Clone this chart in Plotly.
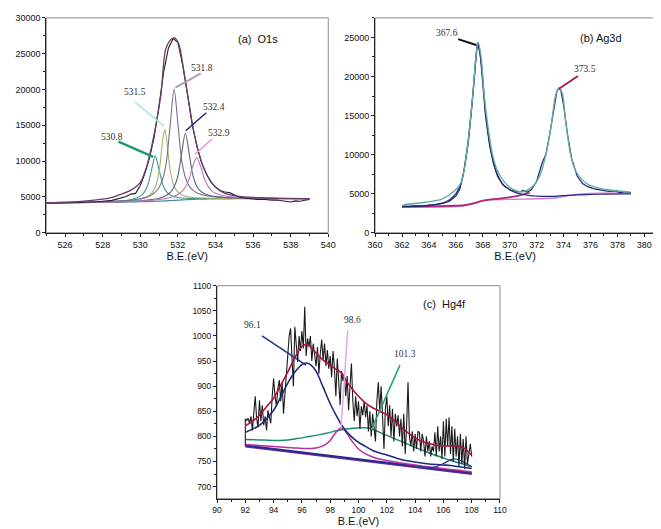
import plotly.graph_objects as go

# ---------------- Panel (a) O1s ----------------
a_x = [525, 526, 527, 528, 529, 529.5, 530, 530.2, 530.4, 530.6, 530.8, 531, 531.2, 531.3, 531.4,
       531.6, 531.8, 532, 532.2, 532.4, 532.6, 532.8, 533, 533.2, 533.4, 533.6, 533.8, 534, 534.5,
       535, 536, 537, 538, 539]
a_bg = [4150, 4180, 4210, 4240, 4280, 4300, 4330, 4345, 4360, 4375, 4390, 4410, 4435, 4448, 4460,
        4490, 4520, 4550, 4580, 4610, 4635, 4660, 4680, 4695, 4705, 4715, 4722, 4728, 4740, 4748,
        4750, 4750, 4750, 4750]
a_p1 = [4167, 4205, 4249, 4312, 4452, 4621, 5113, 5615, 6646, 8772, 10740, 8807, 6721, 6128, 5730,
        5273, 5044, 4924, 4859, 4826, 4807, 4800, 4796, 4793, 4788, 4787, 4785, 4783, 4781, 4780,
        4771, 4765, 4761, 4758]
a_p2 = [4166, 4202, 4244, 4297, 4397, 4489, 4687, 4836, 5076, 5506, 6390, 8508, 13056, 14448, 13081,
        8588, 6520, 5681, 5296, 5101, 4992, 4930, 4892, 4865, 4845, 4832, 4821, 4813, 4801, 4793,
        4778, 4769, 4764, 4761]
a_p3 = [4180, 4221, 4270, 4336, 4456, 4560, 4750, 4872, 5042, 5289, 5672, 6325, 7541, 8556, 10046,
        15244, 20050, 15304, 10166, 7716, 6550, 5942, 5594, 5377, 5232, 5135, 5064, 5011, 4929, 4883,
        4829, 4802, 4786, 4777]
a_p4 = [4165, 4200, 4239, 4283, 4352, 4399, 4473, 4515, 4561, 4627, 4707, 4819, 4983, 5093, 5230,
        5639, 6384, 7903, 11034, 13930, 11089, 8013, 6544, 5844, 5475, 5263, 5131, 5045, 4926, 4870,
        4814, 4789, 4777, 4769]
a_p5 = [4165, 4199, 4236, 4277, 4338, 4375, 4432, 4461, 4495, 4532, 4576, 4634, 4709, 4753, 4802,
        4929, 5102, 5353, 5744, 6401, 7545, 9316, 10500, 9351, 7615, 6506, 5886, 5531, 5126, 4972,
        4852, 4808, 4787, 4776]

a_env_x = [525, 526, 527, 528, 528.5, 529, 529.5, 530, 530.3, 530.6, 530.9, 531.1, 531.35, 531.6,
           531.8, 532.05, 532.3, 532.55, 532.8, 533.1, 533.35, 533.6, 533.95, 534.45, 535.15, 536.4,
           537.5, 539]
a_env_y = [4180, 4280, 4420, 4700, 4950, 5400, 5950, 7000, 8900, 12000, 16000, 19300, 25600, 26900,
           27250, 26350, 22900, 18800, 14800, 11300, 9200, 7850, 6480, 5570, 5110, 4890, 4800, 4750]

a_raw_x = [525, 525.25, 525.5, 525.75, 526, 526.25, 526.5, 526.75, 527, 527.25, 527.5, 527.75, 528,
           528.25, 528.5, 528.75, 529, 529.25, 529.5, 529.75, 530, 530.25, 530.5, 530.75, 531,
           531.25, 531.5, 531.75, 532, 532.25, 532.5, 532.75, 533, 533.25, 533.5, 533.75, 534,
           534.25, 534.5, 534.75, 535, 535.25, 535.5, 535.75, 536, 536.25, 536.5, 536.75, 537,
           537.25, 537.5, 537.75, 538, 538.25, 538.5, 538.75, 539]
a_raw_y = [4150, 4130, 4160, 4170, 4190, 4180, 4220, 4200, 4260, 4240, 4300, 4330, 4400, 4420, 4520,
           4700, 4850, 5050, 5400, 5500, 6600, 8300, 10500, 13500, 17800, 22500, 25800, 27100, 26600,
           23500, 19500, 15300, 12200, 9900, 8300, 7100, 6400, 5900, 5700, 5600, 5300, 5000, 4850,
           4780, 4700, 4650, 4680, 4600, 4560, 4580, 4500, 4350, 4300, 4450, 4400, 4550, 4650]

a_labels = ["530.8", "531.5", "531.8", "532.4", "532.9"]
a_label_x = [528.5, 529.7, 533.3, 533.9, 534.2]
a_label_y = [13400, 19700, 23000, 17500, 13900]
a_ptr_x0 = [528.84, 529.71, 533.22, 533.51, 533.82]
a_ptr_y0 = [12740, 18260, 22240, 16760, 13100]
a_ptr_x1 = [530.69, 531.26, 531.87, 532.42, 532.91]
a_ptr_y1 = [10600, 14930, 20270, 14250, 10960]
a_ptr_col = ["#1f9a63", "#9fe6dc", "#b09ab8", "#1c2a80", "#e58ee0"]
a_ptr_w = [2.5, 1.5, 2, 1.5, 1.5]

# ---------------- Panel (b) Ag3d ----------------
b_env_x = [362.1, 363.75, 364.96, 365.93, 366.41, 366.89, 367.26, 367.5, 367.65, 367.86, 368.1,
           368.39, 368.71, 369.07, 369.55, 370.04, 370.52, 371.0, 371.73, 372.21, 372.7, 373.06,
           373.42, 373.66, 373.9, 374.15, 374.51, 374.87, 375.36, 375.84, 376.57, 377.53, 378.98]
b_env_y = [3600, 3900, 4300, 5400, 6500, 11400, 17700, 22700, 24400, 22700, 17700, 13500, 10100,
           8000, 6600, 5750, 5350, 5250, 5950, 7200, 10100, 13500, 17700, 18500, 17900, 14300, 10100,
           8000, 6800, 6150, 5750, 5450, 5200]

b_raw_x = [362.0, 362.5, 363, 363.5, 364, 364.5, 365, 365.5, 366, 366.3, 366.6, 366.9, 367.2, 367.4,
           367.6, 367.8, 368.0, 368.2, 368.5, 368.8, 369.1, 369.5, 370, 370.5, 370.8, 371.0, 371.1,
           371.3, 371.6, 372, 372.4, 372.7, 373.0, 373.3, 373.5, 373.65, 373.8, 374.0, 374.3, 374.6,
           375, 375.4, 375.8, 376.2, 376.6, 377, 377.4, 377.8, 378.2, 378.6, 379]
b_raw_y = [3400, 3350, 3450, 3420, 3550, 3600, 3750, 4000, 4700, 5600, 8000, 11500, 16500, 21000,
           24300, 23000, 19000, 15000, 11200, 8800, 7200, 6100, 5500, 5250, 5250, 5450, 5300, 5200,
           5500, 6600, 8900, 10100, 12900, 16200, 18100, 18500, 18200, 16300, 12500, 9500, 7300, 6300,
           5900, 5650, 5500, 5400, 5300, 5350, 5150, 5250, 5100]

b_p1_x = [362.0, 363, 364, 365, 365.5, 366, 366.4, 366.9, 367.3, 367.62, 367.9, 368.2, 368.6, 369.0,
          369.5, 370, 370.5, 371, 371.5, 372, 373, 374, 375, 376, 377, 379]
b_p1_y = [3350, 3400, 3500, 3800, 4200, 5000, 6400, 11300, 18500, 24300, 21500, 15500, 10500, 7800,
          6200, 5500, 5100, 4900, 4750, 4700, 4650, 4750, 4850, 4900, 4950, 4980]

b_bg1_x = [362.0, 364, 366, 366.65, 367.3, 367.86, 368.5, 369.07, 369.8, 370.52, 371.0, 371.49]
b_bg1_y = [3350, 3380, 3460, 3520, 3750, 4060, 4250, 4350, 4500, 4690, 4900, 5110]
b_bg2_x = [362.0, 364, 366, 367, 368.1, 370.04, 371.97, 373.42, 374.39, 375.84, 377, 378.98]
b_bg2_y = [3250, 3280, 3350, 3600, 4150, 4270, 4350, 4480, 4770, 5030, 5080, 5110]

b_labels = ["367.6", "373.5"]
b_label_x = [365.32, 375.6]
b_label_y = [25540, 21020]
b_ptr_x0 = [366.17, 375.07]
b_ptr_y0 = [24790, 20060]
b_ptr_x1 = [367.5, 373.66]
b_ptr_y1 = [24040, 18430]
b_ptr_col = ["#111111", "#a3204e"]

# ---------------- Panel (c) Hg4f ----------------
c_x = [92, 93, 94, 94.5, 95, 95.5, 96, 96.3, 96.6, 97, 97.5, 98, 98.4, 98.8, 99.2, 99.6, 100, 100.5,
       101, 101.5, 102, 103, 104, 105, 106, 106.5, 107, 107.5, 108]
c_p961 = [808, 822, 852, 878, 906, 928, 943, 946, 943, 930, 898, 865, 843, 823, 808, 797, 788, 780,
          772, 767, 763, 754, 749, 745, 743, 742, 740, 738, 736]
c_p986 = [784, 782, 780, 779, 778, 777, 776, 776, 776, 777, 781, 792, 808, 817, 805, 788, 775, 765,
          759, 755, 752, 747, 743, 739, 736, 734, 733, 731, 729]
c_p1013 = [794, 793, 792, 792, 793, 795, 797, 799, 800, 802, 805, 808, 811, 813, 815, 816, 817, 817,
           814, 808, 802, 790, 778, 767, 757, 752, 748, 744, 739]

c_env_x = [92, 92.5, 93, 93.5, 94, 94.5, 95, 95.5, 96, 96.3, 96.6, 97, 97.5, 98, 98.5, 98.8, 99.2,
           99.6, 100, 100.5, 101, 101.5, 102, 102.5, 103, 103.5, 104, 104.5, 105, 105.5, 106, 106.5,
           107, 107.5, 108]
c_env_y = [821, 830, 842, 859, 876, 902, 928, 957, 979, 983, 979, 966, 952, 942, 932, 926, 908, 893,
           880, 866, 857, 850, 843, 832, 819, 807, 797, 790, 786, 783, 781, 781, 781, 776, 762]

c_small_x = [104, 105, 105.5, 106, 106.5, 106.8, 107.2, 107.6, 108]
c_small_y = [741, 738, 740, 746, 753, 755, 752, 746, 740]

c_base_x = [92, 108]
c_base1_y = [782, 727]
c_base2_y = [780, 725]

c_raw_x = [92.0, 92.0, 92.1, 92.2, 92.3, 92.4, 92.5, 92.6, 92.7, 92.8, 92.9,
           93.0, 93.1, 93.2, 93.3, 93.4, 93.5, 93.6, 93.7, 93.8, 93.9,
           94.0, 94.1, 94.2, 94.3, 94.4, 94.5, 94.6, 94.7, 94.8, 94.9,
           95.0, 95.1, 95.2, 95.3, 95.4, 95.5, 95.6, 95.7, 95.8, 95.9,
           96.0, 96.1, 96.2, 96.3, 96.4, 96.5, 96.6, 96.7, 96.8, 96.9,
           97.0, 97.1, 97.2, 97.3, 97.4, 97.5, 97.6, 97.7, 97.8, 97.9,
           98.0, 98.1, 98.2, 98.3, 98.4, 98.5, 98.6, 98.7, 98.8, 98.9,
           99.0, 99.1, 99.2, 99.3, 99.4, 99.5, 99.6, 99.7, 99.8, 99.9,
           100.0, 100.1, 100.2, 100.3, 100.4, 100.5, 100.6, 100.7, 100.8, 100.9,
           101.0, 101.1, 101.2, 101.3, 101.4, 101.5, 101.6, 101.7, 101.8, 101.9,
           102.0, 102.1, 102.2, 102.3, 102.4, 102.5, 102.6, 102.7, 102.8, 102.9,
           103.0, 103.1, 103.2, 103.3, 103.4, 103.5, 103.6, 103.7, 103.8, 103.9,
           104.0, 104.1, 104.2, 104.3, 104.4, 104.5, 104.6, 104.7, 104.8, 104.9,
           105.0, 105.1, 105.2, 105.3, 105.4, 105.5, 105.6, 105.7, 105.8, 105.9,
           106.0, 106.1, 106.2, 106.3, 106.4, 106.5, 106.6, 106.7, 106.8, 106.9,
           107.0, 107.1, 107.2, 107.3, 107.4, 107.5, 107.6, 107.7, 107.8, 107.9,
           108.0]
c_raw_y = [782, 835, 832, 836, 826, 840, 812, 848, 880, 835, 818,
           872, 830, 862, 822, 840, 812, 852, 838, 826, 880,
           915, 880, 860, 895, 912, 870, 908, 845, 880, 930,
           960, 1000, 1015, 965, 900, 1018, 985, 948, 1000, 970,
           1010, 975, 1058, 960, 995, 978, 1000, 950, 985, 960,
           940, 978, 925, 965, 993, 952, 985, 940, 972, 935,
           960, 918, 970, 935, 880, 955, 905, 862, 930, 910,
           925, 880, 920, 852, 900, 945, 870, 830, 880, 840,
           870, 815, 860, 842, 870, 838, 862, 810, 850, 800,
           845, 812, 790, 870, 908, 850, 900, 840, 775, 855,
           880, 820, 862, 800, 855, 790, 845, 820, 842, 800,
           835, 780, 845, 765, 820, 908, 800, 780, 810, 770,
           805, 775, 810, 808, 770, 805, 790, 760, 800, 770,
           790, 760, 780, 770, 808, 760, 820, 770, 800, 755,
           830, 760, 835, 780, 838, 765, 820, 750, 815, 760,
           800, 740, 805, 745, 795, 735, 800, 745, 770, 785,
           760]

c_labels = ["96.1", "98.6", "101.3"]
c_label_x = [92.49, 99.56, 103.32]
c_label_y = [1022, 1031, 965]
c_ptr_x0 = [93.18, 99.24, 102.93]
c_ptr_y0 = [1000, 1012, 942]
c_ptr_x1 = [96.29, 98.76, 100.9]
c_ptr_y1 = [942, 817, 813]
c_ptr_col = ["#23308a", "#eaa6ea", "#22a070"]

FONT = "Liberation Sans, Arial, sans-serif"
LBLFONT = "Liberation Serif, Times New Roman, serif"

fig = go.Figure()


def line(x, y, color, width, xa, ya, shape="spline"):
    fig.add_trace(go.Scatter(x=x, y=y, mode="lines", xaxis=xa, yaxis=ya,
                             line=dict(color=color, width=width, shape=shape, smoothing=0.8),
                             hoverinfo="skip", showlegend=False))


# panel a
line(a_x, a_bg, "#4b86a6", 1.2, "x", "y")
line(a_x, a_p1, "#3a9a88", 1.1, "x", "y")
line(a_x, a_p2, "#a5b268", 1.1, "x", "y")
line(a_x, a_p3, "#7c6c8c", 1.1, "x", "y")
line(a_x, a_p4, "#55657f", 1.1, "x", "y")
line(a_x, a_p5, "#b874c8", 1.1, "x", "y")
line(a_raw_x, a_raw_y, "#222222", 1.1, "x", "y", shape="linear")
line(a_env_x, a_env_y, "#6a3b6c", 1.3, "x", "y")

# panel b
line(b_bg2_x, b_bg2_y, "#d37ad0", 1.4, "x2", "y2")
line(b_bg1_x, b_bg1_y, "#a8287f", 1.8, "x2", "y2")
line(b_p1_x, b_p1_y, "#262a86", 1.2, "x2", "y2")
line(b_raw_x, b_raw_y, "#23236e", 1.2, "x2", "y2", shape="linear")
line(b_env_x, b_env_y, "#5fae9f", 1.4, "x2", "y2")

# panel c
line(c_base_x, c_base2_y, "#6a2a9a", 2, "x3", "y3", shape="linear")
line(c_base_x, c_base1_y, "#2a2a8a", 2, "x3", "y3", shape="linear")
line(c_x, c_p1013, "#1a8a70", 1.5, "x3", "y3")
line(c_x, c_p986, "#b8309a", 1.5, "x3", "y3")
line(c_small_x, c_small_y, "#2a3a9a", 1.3, "x3", "y3")
line(c_raw_x, c_raw_y, "#1a1a1a", 1.1, "x3", "y3", shape="linear")
line(c_x, c_p961, "#1e2a80", 1.6, "x3", "y3")
line(c_env_x, c_env_y, "#b01040", 1.6, "x3", "y3")

shapes = []
annotations = []


def add_ptrs(xr, yr, x0, y0, x1, y1, cols, widths):
    for i in range(len(x0)):
        shapes.append(dict(type="line", xref=xr, yref=yr, x0=x0[i], y0=y0[i], x1=x1[i], y1=y1[i],
                           line=dict(color=cols[i], width=widths[i])))


def add_labels(xr, yr, texts, xs, ys, size=9.5):
    for t, x, y in zip(texts, xs, ys):
        annotations.append(dict(xref=xr, yref=yr, x=x, y=y, text=t, showarrow=False,
                                font=dict(family=LBLFONT, size=size, color="#333333")))


add_ptrs("x", "y", a_ptr_x0, a_ptr_y0, a_ptr_x1, a_ptr_y1, a_ptr_col, a_ptr_w)
add_ptrs("x2", "y2", b_ptr_x0, b_ptr_y0, b_ptr_x1, b_ptr_y1, b_ptr_col, [2, 2])
add_ptrs("x3", "y3", c_ptr_x0, c_ptr_y0, c_ptr_x1, c_ptr_y1, c_ptr_col, [1.5, 1.5, 1.5])
add_labels("x", "y", a_labels, a_label_x, a_label_y)
add_labels("x2", "y2", b_labels, b_label_x, b_label_y)
add_labels("x3", "y3", c_labels, c_label_x, c_label_y)

annotations.append(dict(xref="x", yref="y", x=536.28, y=27120, text="(a)  O1s", showarrow=False,
                        font=dict(family=FONT, size=11, color="#111111")))
annotations.append(dict(xref="x2", yref="y2", x=376.8, y=24870, text="(b) Ag3d", showarrow=False,
                        font=dict(family=FONT, size=11, color="#111111")))
annotations.append(dict(xref="x3", yref="y3", x=106.08, y=1063, text="(c)  Hg4f", showarrow=False,
                        font=dict(family=FONT, size=11, color="#111111")))

# frames (mirror box)
for xr, yr in [("x", "y"), ("x2", "y2"), ("x3", "y3")]:
    shapes.append(dict(type="rect", xref=xr + " domain", yref=yr + " domain", x0=0, x1=1, y0=0, y1=1,
                       line=dict(color="#8a8a8a", width=1), layer="below"))


def xaxis(dom, rng, anchor, size):
    return dict(domain=dom, range=rng, anchor=anchor, showline=True, linecolor="#222222", linewidth=1,
                ticks="outside", ticklen=3, tickcolor="#222222", dtick=2, tick0=0,
                minor=dict(ticks="outside", ticklen=2, dtick=1, tickcolor="#222222"),
                showgrid=False, zeroline=False,
                tickfont=dict(family=FONT, size=size, color="#111111"),
                title=dict(text="B.E.(eV)", font=dict(family=FONT, size=11, color="#111111"), standoff=3))


def yaxis(dom, rng, anchor, dt, size):
    return dict(domain=dom, range=rng, anchor=anchor, showline=True, linecolor="#222222", linewidth=1,
                ticks="outside", ticklen=3, tickcolor="#222222", dtick=dt, tick0=0, tickformat="d",
                minor=dict(ticks="outside", ticklen=2, dtick=dt / 2, tickcolor="#222222"),
                showgrid=False, zeroline=False,
                tickfont=dict(family=FONT, size=size, color="#111111"))


fig.update_layout(
    width=661, height=529, margin=dict(l=0, r=0, t=0, b=0),
    paper_bgcolor="white", plot_bgcolor="white", showlegend=False,
    xaxis=xaxis([31 / 661, 320 / 661], [525, 540], "y", 9),
    yaxis=yaxis([1 - 224 / 529, 1 - 5 / 529], [0, 30000], "x", 5000, 9),
    xaxis2=xaxis([368 / 661, 655 / 661], [360, 380.8], "y2", 9),
    yaxis2=yaxis([1 - 224 / 529, 1 - 5 / 529], [0, 27500], "x2", 5000, 9),
    xaxis3=xaxis([206 / 661, 496 / 661], [90, 110], "y3", 8.5),
    yaxis3=yaxis([1 - 495 / 529, 1 - 278 / 529], [676, 1100], "x3", 50, 8.5),
    shapes=shapes, annotations=annotations,
)

fig.write_html("out.html")
